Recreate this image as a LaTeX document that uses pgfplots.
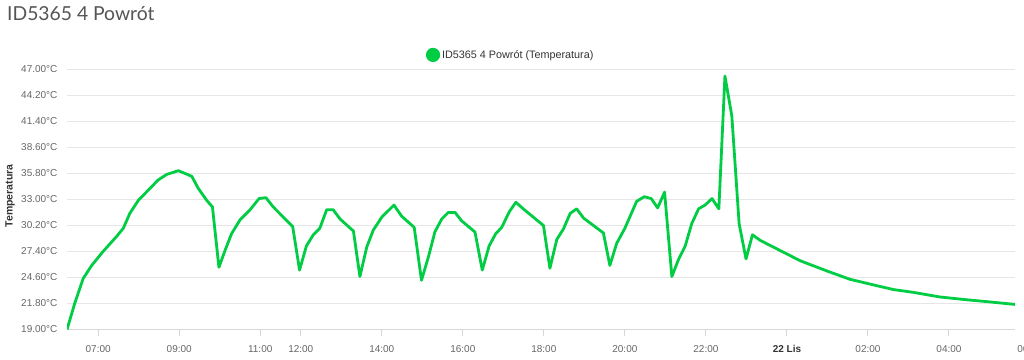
\documentclass[border=0pt]{standalone}
\usepackage{fontspec}
\setmainfont{Liberation Sans}
\newfontfamily\titlefont{Lato}
\usepackage{pgfplots}
\pgfplotsset{compat=1.18}
\definecolor{linegreen}{RGB}{0,204,68}
\definecolor{gridgray}{RGB}{230,230,230}
\definecolor{axisgray}{RGB}{216,216,216}
\definecolor{labelgray}{RGB}{102,102,102}
\definecolor{legendtext}{RGB}{51,51,51}
\definecolor{titlegray}{RGB}{85,85,85}
\begin{document}
\begin{tikzpicture}[x=1pt,y=1pt]
\useasboundingbox (0,0) rectangle (1024,359);
\node[anchor=base west, inner sep=0, text=titlegray, font=\titlefont\fontsize{19.3}{22}\selectfont] at (7,338.3) {ID5365 4 Powrót};
\node[anchor=base, inner sep=0, text=labelgray, font=\fontsize{10}{12}\selectfont] at (1029.8,6.5) {06:00};
\node[rotate=90, inner sep=0, text=legendtext, font=\bfseries\fontsize{10.5}{12}\selectfont] at (10,163) {Temperatura};
\begin{axis}[
  at={(67pt,29.5pt)}, anchor=south west,
  scale only axis, width=948pt, height=260pt,
  xmin=6.23, xmax=29.63, ymin=19, ymax=47,
  axis x line=bottom, axis y line=left,
  x axis line style={-, draw=axisgray, line width=1.5pt},
  y axis line style={draw=none},
  ymajorgrids, grid style={gridgray, line width=1pt},
  ytick={19,21.8,24.6,27.4,30.2,33,35.8,38.6,41.4,44.2,47},
  ytick style={draw=none},
  xtick={7,9,11,12,14,16,18,20,22,24,26,28},
  xticklabels={07:00,09:00,11:00,12:00,14:00,16:00,18:00,20:00,22:00,{\textbf{\textcolor{legendtext}{22 Lis}}},02:00,04:00},
  xtick style={draw=axisgray, line width=1pt},
  tick align=outside, major tick length=6pt,
  /pgf/number format/assume math mode=true,
  yticklabel={\pgfmathprintnumber[fixed,fixed zerofill,precision=2]{\tick}°C},
  yticklabel style={text=labelgray, font=\fontsize{10}{12}\selectfont},
  xticklabel style={text=labelgray, font=\fontsize{10}{12}\selectfont, anchor=base, yshift=-17pt},
  legend style={at={(0.468,1.056)}, anchor=center, draw=none, fill=none, text=legendtext, font=\fontsize{10.8}{12}\selectfont},
  legend image code/.code={\fill[linegreen] (0pt,0pt) circle (5.7pt);},
]
\addplot[linegreen, line width=2.8pt, line join=round] coordinates {
(6.23,19.0) (6.42,21.8) (6.63,24.5) (6.84,25.9) (7.12,27.4) (7.45,29.0) (7.62,29.9) (7.78,31.5) (7.99,32.9) (8.19,33.8) (8.48,35.1) (8.69,35.7) (8.98,36.1) (9.31,35.5) (9.47,34.2) (9.68,32.9) (9.82,32.2) (9.98,25.7) (10.13,27.5) (10.29,29.3) (10.50,30.8) (10.75,31.9) (10.97,33.1) (11.14,33.2) (11.32,32.2) (11.57,31.1) (11.80,30.1) (11.97,25.4) (12.14,28.0) (12.31,29.2) (12.47,29.9) (12.64,31.9) (12.80,31.9) (12.97,30.9) (13.30,29.6) (13.46,24.7) (13.63,27.9) (13.79,29.7) (14.00,31.1) (14.30,32.4) (14.49,31.2) (14.80,30.0) (14.98,24.3) (15.15,26.8) (15.31,29.5) (15.48,30.9) (15.64,31.6) (15.81,31.6) (15.97,30.7) (16.30,29.5) (16.48,25.4) (16.65,28.0) (16.81,29.3) (16.96,30.0) (17.15,31.7) (17.31,32.7) (17.49,32.0) (17.99,30.2) (18.15,25.6) (18.32,28.7) (18.48,29.8) (18.65,31.5) (18.81,32.0) (18.98,31.0) (19.47,29.4) (19.63,25.9) (19.80,28.3) (20.00,29.9) (20.29,32.8) (20.48,33.3) (20.65,33.1) (20.81,32.1) (20.98,33.8) (21.16,24.7) (21.32,26.5) (21.49,28.0) (21.65,30.4) (21.82,32.0) (21.98,32.4) (22.15,33.1) (22.32,32.0) (22.47,46.3) (22.64,42.0) (22.82,30.4) (22.99,26.6) (23.15,29.2) (23.34,28.6) (24.33,26.4) (24.99,25.3) (25.56,24.4) (26.14,23.8) (26.63,23.3) (27.12,23.0) (27.78,22.5) (28.44,22.2) (28.94,22.0) (29.63,21.7)
};
\addlegendentry{ID5365 4 Powrót (Temperatura)}
\end{axis}
\end{tikzpicture}
\end{document}
